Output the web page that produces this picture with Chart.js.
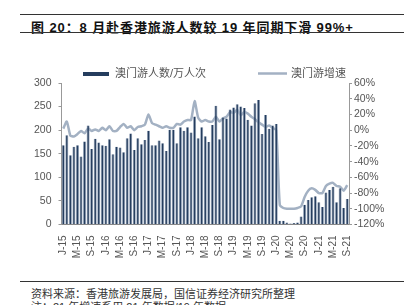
<!DOCTYPE html>
<html>
<head>
<meta charset="utf-8">
<script src="https://cdn.jsdelivr.net/npm/chart.js@4.4.1/dist/chart.umd.min.js"></script>
<style>
  body { margin: 0; background: #fff; }
  #wrap { position: relative; width: 413px; height: 305px; overflow: hidden; background: #fff;
          font-family: "Liberation Sans", "Noto Sans CJK SC", sans-serif; }
  .rule { position: absolute; left: 20px; width: 384px; height: 0; border-top: 1px solid #333; }
  #title { position: absolute; left: 31px; top: 17px; font-size: 13px; font-weight: bold; color: #111;
           white-space: pre; letter-spacing: 0.9px; }
  .note { position: absolute; left: 31px; font-size: 11px; color: #333; white-space: pre; }
  #chart { position: absolute; left: 0; top: 0; }
</style>
</head>
<body>
<div id="wrap">
  <div class="rule" style="top:14px"></div>
  <div id="title">图 20：8 月赴香港旅游人数较 19 年同期下滑 99%+</div>
  <div class="rule" style="top:32px"></div>
  <canvas id="chart" width="413" height="270"></canvas>
  <div class="rule" style="top:281px"></div>
  <div class="note" style="top:285px">资料来源：香港旅游发展局，国信证券经济研究所整理</div>
  <div class="note" style="top:298px">注：21 年增速系用 21 年数据/19 年数据</div>
</div>
<script>
// months Jan-2015 .. Sep-2021
var months = [
  "J-15","F-15","M-15","A-15","M-15","J-15","J-15","A-15","S-15","O-15","N-15","D-15",
  "J-16","F-16","M-16","A-16","M-16","J-16","J-16","A-16","S-16","O-16","N-16","D-16",
  "J-17","F-17","M-17","A-17","M-17","J-17","J-17","A-17","S-17","O-17","N-17","D-17",
  "J-18","F-18","M-18","A-18","M-18","J-18","J-18","A-18","S-18","O-18","N-18","D-18",
  "J-19","F-19","M-19","A-19","M-19","J-19","J-19","A-19","S-19","O-19","N-19","D-19",
  "J-20","F-20","M-20","A-20","M-20","J-20","J-20","A-20","S-20","O-20","N-20","D-20",
  "J-21","F-21","M-21","A-21","M-21","J-21","J-21","A-21","S-21"
];

// 澳门游人数/万人次
var visitors = [
  168, 189, 147, 165, 168, 144, 176, 210, 160, 182, 174, 168,
  167, 181, 149, 165, 163, 153, 183, 193, 158, 183, 170, 179,
  199, 168, 168, 178, 172, 156, 201, 201, 172, 206, 199, 206,
  195, 229, 183, 206, 187, 175, 211, 252, 181, 227, 225, 244,
  248, 255, 250, 247, 222, 210, 257, 264, 192, 232, 203, 210,
  213, 8, 8, 4, 2, 3, 4, 17, 42, 52, 58, 60,
  47, 37, 68, 73, 80, 47, 77, 35, 54
];

// 澳门游增速 (%)
var growth = [
  2, 11, -7, -8, -5, -1, -4, 2, -1, 1, -1, 3,
  0, 5, -1, -1, 4, 8, 3, 5, 0, 4, 5, 7,
  20, 9, 7, 5, 3, 5, 3, 3, 8, 7, 11, 13,
  13, 37, 16, 11, 13, 11, 11, 17, 11, 15, 17, 23,
  22, 26, 19, 23, 21, 17, 14, 10, 7, 4, 6, 3,
  0, -95, -99, -100, -100, -100, -99, -97, -85, -77, -74, -76,
  -80, -80, -71, -68, -67, -71, -72, -77, -70
];

var shownTicks = ["J-15","M-15","S-15","J-16","M-16","S-16","J-17","M-17","S-17","J-18","M-18",
  "S-18","J-19","M-19","S-19","J-20","M-20","S-20","J-21","M-21","S-21"];

var barColor = "#253d5e";
var barEdge = "#8a9cb4";
var lineColor = "#a3b1c3";
var fontFam = "'Liberation Sans', 'Noto Sans CJK SC', sans-serif";

// hand drawn legend, placed like the source
var legendPlugin = {
  id: "legendPlugin",
  afterDraw: function (chart) {
    var ctx = chart.ctx;
    ctx.save();
    ctx.font = "11px " + fontFam;
    ctx.textBaseline = "middle";
    ctx.fillStyle = barColor;
    ctx.fillRect(83, 72, 26, 4);
    ctx.fillStyle = "#555";
    ctx.fillText(chart.data.datasets[0].label, 115, 74);
    ctx.strokeStyle = lineColor;
    ctx.lineWidth = 2.5;
    ctx.beginPath();
    ctx.moveTo(258, 73.5);
    ctx.lineTo(287, 73.5);
    ctx.stroke();
    ctx.fillText(chart.data.datasets[1].label, 291, 74);
    ctx.restore();
  }
};

var ctx = document.getElementById("chart").getContext("2d");
var chart = new Chart(ctx, {
  type: "bar",
  data: {
    labels: months,
    datasets: [
      {
        label: "澳门游人数/万人次",
        data: visitors,
        backgroundColor: barColor,
        borderColor: barEdge,
        borderWidth: { left: 0.8, right: 0.8, top: 0, bottom: 0 },
        borderSkipped: false,
        yAxisID: "y",
        order: 1,
        barPercentage: 0.86,
        categoryPercentage: 1.0
      },
      {
        type: "line",
        label: "澳门游增速",
        data: growth,
        borderColor: lineColor,
        backgroundColor: lineColor,
        borderWidth: 2.5,
        pointRadius: 0,
        tension: 0.2,
        yAxisID: "y1",
        order: 2
      }
    ]
  },
  options: {
    responsive: false,
    devicePixelRatio: 1,
    animation: false,
    layout: { padding: { top: 83, left: 0, right: 0, bottom: 0 } },
    plugins: { legend: { display: false }, tooltip: { enabled: false } },
    scales: {
      x: {
        grid: { display: false },
        border: { display: true, color: "#888" },
        ticks: {
          autoSkip: false,
          minRotation: 90,
          maxRotation: 90,
          padding: 3,
          color: "#555",
          font: { size: 10, family: fontFam },
          callback: function (val, i) {
            return i % 4 === 0 ? shownTicks[i / 4] : null;
          }
        },
        afterFit: function (s) { s.height = 45.5; }
      },
      y: {
        position: "left",
        min: 0,
        max: 300,
        grid: { drawOnChartArea: false, tickLength: 3, color: "#999" },
        border: { color: "#999" },
        ticks: { stepSize: 50, padding: 7, color: "#555", font: { size: 10.5, family: fontFam } },
        afterFit: function (s) { s.width = 61.5; }
      },
      y1: {
        position: "right",
        min: -120,
        max: 60,
        grid: { drawOnChartArea: false, tickLength: 3, color: "#999" },
        border: { color: "#999" },
        ticks: {
          stepSize: 20, padding: 2, color: "#555", font: { size: 10.5, family: fontFam },
          callback: function (v) { return v + "%"; }
        },
        afterFit: function (s) { s.width = 64; }
      }
    }
  },
  plugins: [legendPlugin]
});
</script>
</body>
</html>
